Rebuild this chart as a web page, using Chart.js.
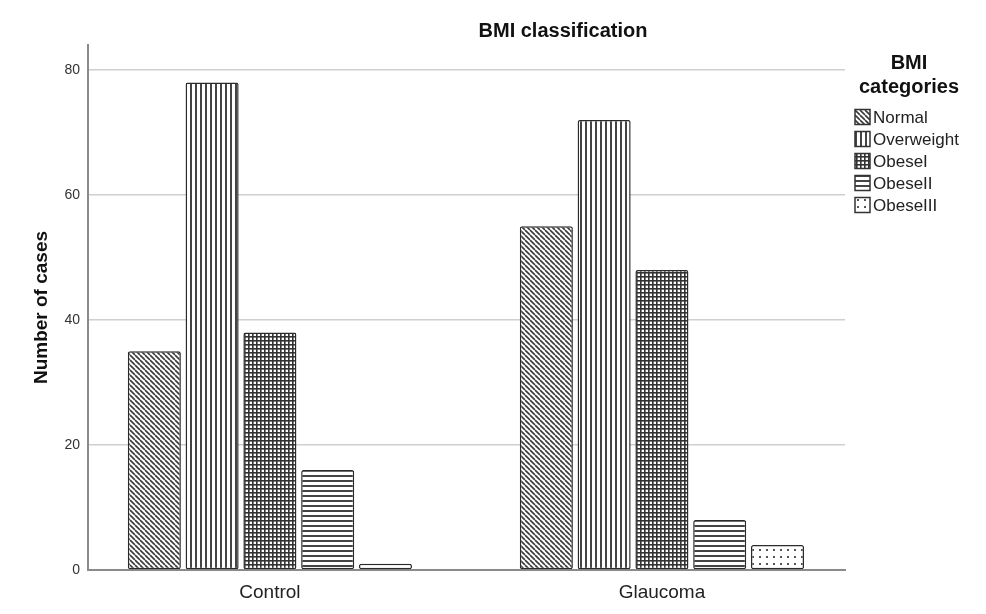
<!DOCTYPE html>
<html>
<head>
<meta charset="utf-8">
<script src="https://cdn.jsdelivr.net/npm/chart.js@4.4.1/dist/chart.umd.min.js"></script>
<style>
  html,body{margin:0;padding:0;background:#fff;}
  #wrap{width:986px;height:614px;position:relative;}
</style>
</head>
<body>
<div id="wrap"><canvas id="bmiChart" width="986" height="614"></canvas></div>
<script>
/* ── DATA ── */
const groups     = ['Control', 'Glaucoma'];
const bmiCats    = ['Normal', 'Overweight', 'ObeseI', 'ObeseII', 'ObeseIII'];
const normal     = [35, 55];
const overweight = [78, 72];
const obeseI     = [38, 48];
const obeseII    = [16, 8];
const obeseIII   = [1, 4];
const yTicks     = [0, 20, 40, 60, 80];

const FONT = "Arial, 'Liberation Sans', sans-serif";
const X_MIN = -0.464, X_MAX = 1.467;   // puts the two groups where SPSS has them

/* ── PATTERNS (SPSS style hatch fills) ── */
function makePattern(size, draw) {
  const c = document.createElement('canvas');
  c.width = size; c.height = size;
  const g = c.getContext('2d');
  g.fillStyle = '#fff'; g.fillRect(0, 0, size, size);
  draw(g, size);
  return document.createElement('canvas').getContext('2d').createPattern(c, 'repeat');
}
const patterns = [
  // Normal: back-slash diagonals
  makePattern(5, (g, n) => {
    g.strokeStyle = '#3a3a3a'; g.lineWidth = 1.6;
    for (let k = -1; k <= 1; k++) { g.beginPath(); g.moveTo(k*n, 0); g.lineTo(k*n + n, n); g.stroke(); }
  }),
  // Overweight: vertical lines
  makePattern(5, (g, n) => { g.fillStyle = '#444'; g.fillRect(0, 0, 2, n); }),
  // ObeseI: grid
  makePattern(4, (g, n) => { g.fillStyle = '#333'; g.fillRect(0, 0, n, 1.6); g.fillRect(0, 0, 1.6, n); }),
  // ObeseII: horizontal lines
  makePattern(5, (g, n) => { g.fillStyle = '#444'; g.fillRect(0, 0, n, 2); }),
  // ObeseIII: dots
  makePattern(7, (g, n) => { g.fillStyle = '#555'; g.fillRect(3, 3, 2, 2); })
];

const seriesVals = [normal, overweight, obeseI, obeseII, obeseIII];
const datasets = bmiCats.map((name, si) => ({
  label: name,
  data: groups.map((_, gi) => ({ x: gi, y: seriesVals[si][gi] })),
  backgroundColor: patterns[si],
  borderColor: '#2a2a2a',
  borderWidth: 1.5,
  borderRadius: 2,
  borderSkipped: false,
  categoryPercentage: 0.737,
  barPercentage: 0.918
}));

/* ── TITLE + LEGEND drawn on top ── */
const decorPlugin = {
  id: 'decor',
  afterDraw(chart) {
    const ctx = chart.ctx;
    ctx.save();
    ctx.fillStyle = '#111';
    ctx.textAlign = 'center'; ctx.textBaseline = 'middle';
    ctx.font = 'bold 20px ' + FONT;
    ctx.fillText('BMI classification', 563, 31);

    // legend title
    ctx.font = 'bold 20px ' + FONT;
    ctx.fillText('BMI', 909, 63);
    ctx.fillText('categories', 909, 87);

    // legend items
    ctx.textAlign = 'left';
    ctx.font = '17px ' + FONT;
    chart.data.datasets.forEach((ds, i) => {
      const cy = 117 + i * 22;
      ctx.fillStyle = ds.backgroundColor;
      ctx.fillRect(855, cy - 7.5, 15, 15);
      ctx.strokeStyle = '#333'; ctx.lineWidth = 1.5;
      ctx.strokeRect(855, cy - 7.5, 15, 15);
      ctx.fillStyle = '#222';
      ctx.fillText(ds.label, 873, cy + 1);
    });
    ctx.restore();
  }
};

new Chart(document.getElementById('bmiChart').getContext('2d'), {
  type: 'bar',
  data: { datasets },
  plugins: [decorPlugin],
  options: {
    responsive: false,
    animation: false,
    layout: { padding: { top: 45, right: 141, bottom: 0, left: 0 } },
    plugins: { legend: { display: false }, tooltip: { enabled: false }, title: { display: false } },
    scales: {
      x: {
        type: 'linear',
        offset: false,
        bounds: 'data',
        min: X_MIN, max: X_MAX,
        afterDataLimits: s => { s.min = X_MIN; s.max = X_MAX; },
        afterBuildTicks: s => { s.ticks = groups.map((_, i) => ({ value: i })); },
        afterFit: s => { s.height = 44; },
        ticks: { callback: v => groups[v], color: '#222', font: { family: FONT, size: 19 }, padding: 11, maxRotation: 0, autoSkip: false },
        grid: { display: false, drawTicks: false, offset: false },
        border: { display: true, color: '#8a8a8a', width: 2 }
      },
      y: {
        min: 0, max: 84,
        afterBuildTicks: s => { s.ticks = yTicks.map(v => ({ value: v })); },
        afterFit: s => { s.width = 88; },
        ticks: { color: '#333', font: { family: FONT, size: 14 }, padding: 8 },
        grid: { color: '#cfcfcf', lineWidth: 1.5, drawTicks: false },
        border: { display: true, color: '#8a8a8a', width: 2 },
        title: { display: true, text: 'Number of cases', color: '#111', font: { family: FONT, size: 19, weight: 'bold' }, padding: { top: 30, bottom: 0 } }
      }
    }
  }
});
</script>
</body>
</html>
